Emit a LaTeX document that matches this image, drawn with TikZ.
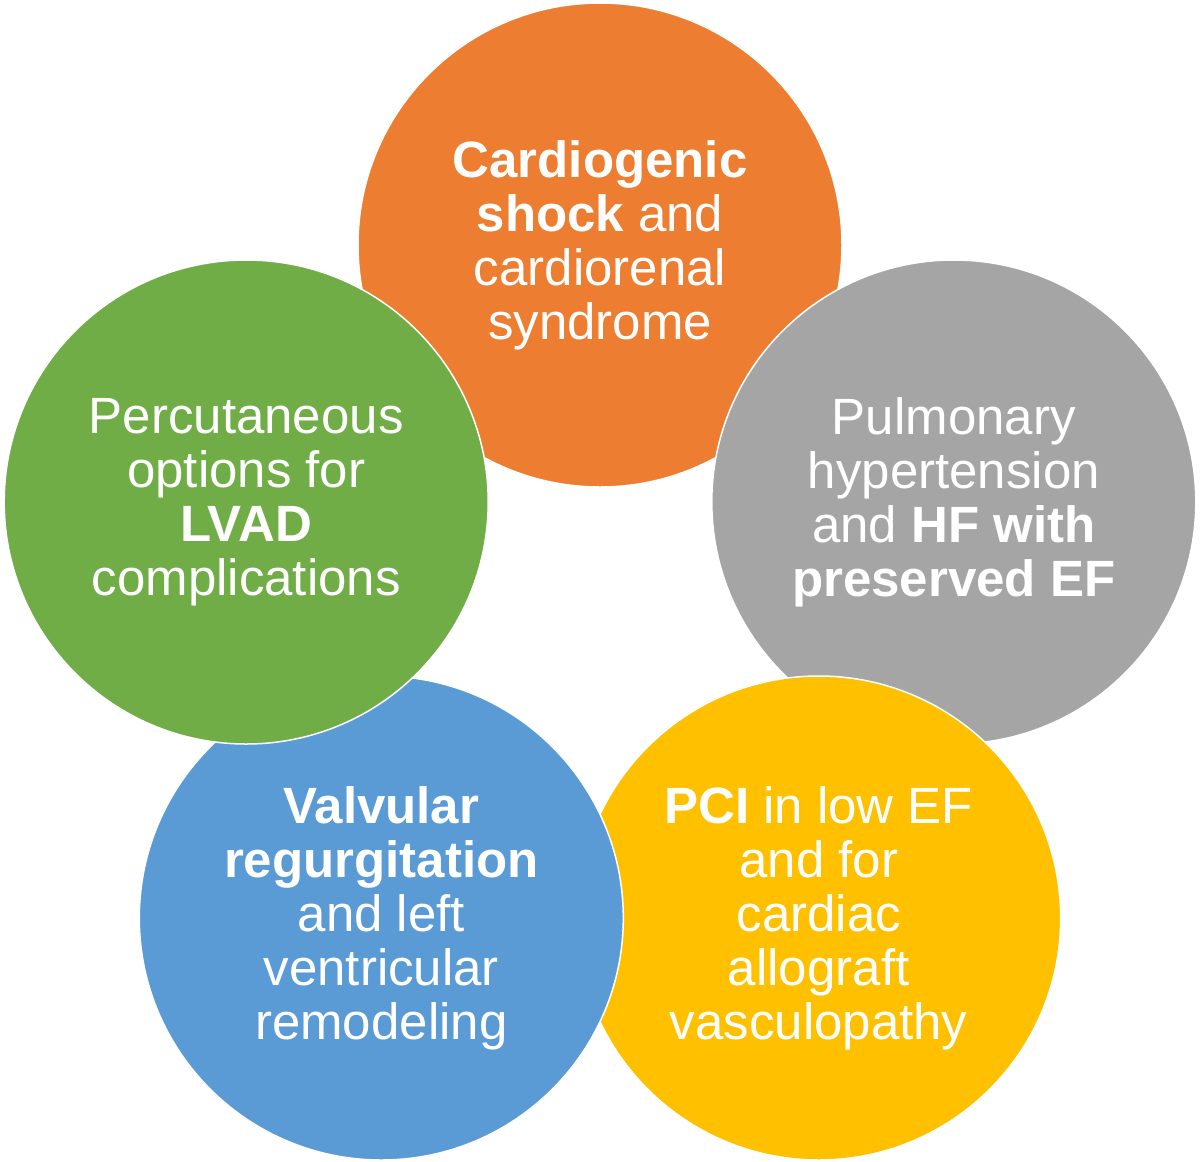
\documentclass[tikz,border=0pt]{standalone}
\usepackage{fontspec}
\setmainfont{Liberation Sans}
\usepackage{xcolor}

\definecolor{shockorange}{RGB}{237,125,49}
\definecolor{pulmgray}{RGB}{165,165,165}
\definecolor{pciyellow}{RGB}{255,192,0}
\definecolor{valveblue}{RGB}{91,155,213}
\definecolor{lvadgreen}{RGB}{112,173,71}

\tikzset{
  topic/.style={circle,draw=white,line width=0.75pt,minimum size=242pt,inner sep=0pt,
    text=white,align=center,font=\fontsize{25.5}{27}\selectfont}
}

\begin{document}
\begin{tikzpicture}[x=0.5pt,y=0.5pt,yscale=-1,xscale=1]
\useasboundingbox (0,0) rectangle (1200,1162);

%Shape: Circle [id:shock]
\node [topic,fill=shockorange] (shock) at (600,245) {\textbf{Cardiogenic}\\\textbf{shock} and\\cardiorenal\\syndrome};
%Shape: Circle [id:pulm]
\node [topic,fill=pulmgray] (pulm) at (953.8,502) {Pulmonary\\hypertension\\and \textbf{HF with}\\\textbf{preserved EF}};
%Shape: Circle [id:pci]
\node [topic,fill=pciyellow] (pci) at (818.7,918) {\textbf{PCI} in low EF\\and for\\cardiac\\allograft\\vasculopathy};
%Shape: Circle [id:valve]
\node [topic,fill=valveblue] (valve) at (381.3,918) {\textbf{Valvular}\\\textbf{regurgitation}\\and left\\ventricular\\remodeling};
%Shape: Circle [id:lvad]
\node [topic,fill=lvadgreen] (lvad) at (246.2,502) {Percutaneous\\options for\\\textbf{LVAD}\\complications};

\end{tikzpicture}
\end{document}
